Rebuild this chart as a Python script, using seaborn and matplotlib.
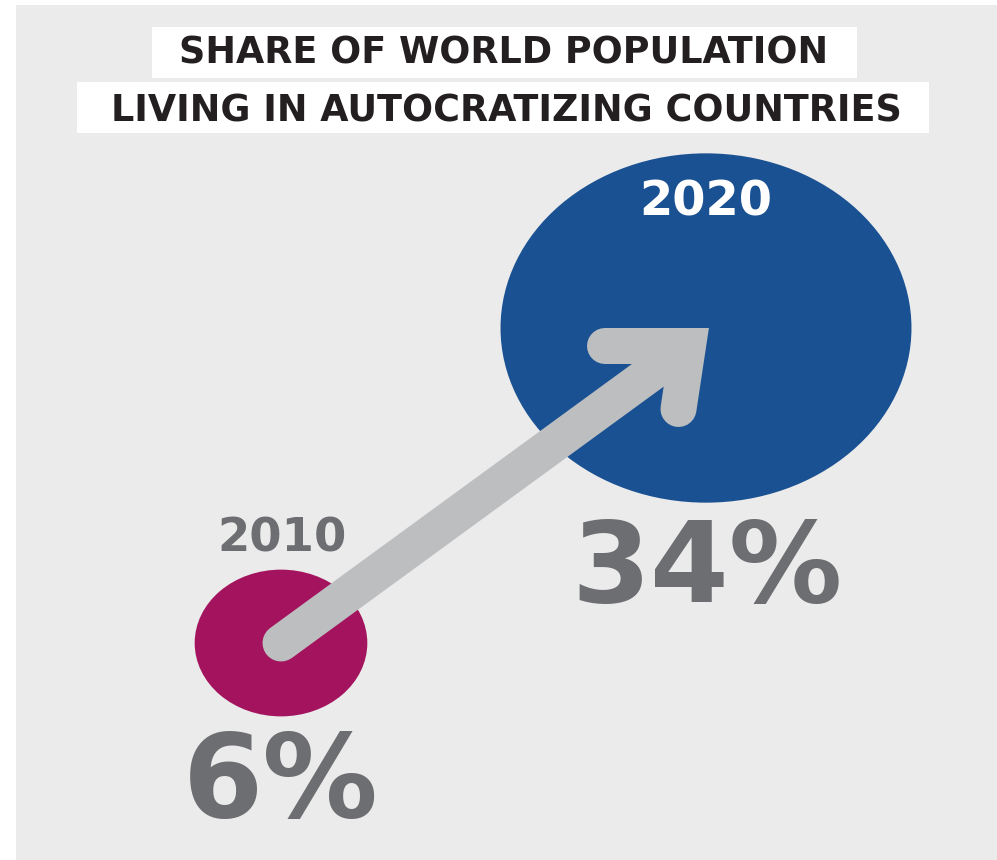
import numpy as np
import pandas as pd
import seaborn as sns
import matplotlib.pyplot as plt
from matplotlib.path import Path
from matplotlib.patches import Rectangle
from matplotlib.lines import Line2D
from matplotlib.transforms import Affine2D

# Data
years = [2010, 2020]
shares = [6, 34]
share_labels = ["6%", "34%"]
year_labels = ["2010", "2020"]
title_lines = ["SHARE OF WORLD POPULATION", "LIVING IN AUTOCRATIZING COUNTRIES"]

# Colours
MAGENTA = "#a3135e"
BLUE = "#1a5192"
ARROW = "#bcbec0"
GREY_TEXT = "#6d6e71"
DARK = "#231f20"
PANEL = "#ebebeb"

W, H = 997, 860
PX = 0.72  # points per pixel at dpi 100

sns.set_theme(style="white")
plt.rcParams["font.family"] = ["DejaVu Sans"]

fig = plt.figure(figsize=(W / 100, H / 100), dpi=100)
fig.patch.set_facecolor("white")

# pixel layer: grey panel + white title boxes
bg = fig.add_axes([0, 0, 1, 1])
bg.set_xlim(0, W)
bg.set_ylim(H, 0)
bg.axis("off")
bg.add_patch(Rectangle((16, 5), W - 16, H - 5, color=PANEL, lw=0))
bg.add_patch(Rectangle((152, 27), 705, 51, color="white", lw=0))
bg.add_patch(Rectangle((77, 82), 852, 51, color="white", lw=0))
bg.text(504, 63, title_lines[0], ha="center", va="baseline",
        fontsize=26.3, fontweight="bold", color=DARK)
bg.text(506, 122, title_lines[1], ha="center", va="baseline",
        fontsize=26.3, fontweight="bold", color=DARK)

# data layer: x = year, y = share, placed so the bubbles land where they should
ax = fig.add_axes([0, 0, 1, 1])
ax.patch.set_alpha(0)

df = pd.DataFrame({"year": years, "share": shares})
ellipse = Path.unit_circle().transformed(Affine2D().scale(1, 0.85))
AREA_PER_PCT = 2575  # marker area (pt^2) per percentage point
sns.scatterplot(data=df, x="year", y="share", hue="year",
                palette={years[0]: MAGENTA, years[1]: BLUE},
                size="share", sizes={s: s * AREA_PER_PCT for s in shares},
                marker=ellipse, linewidth=0, legend=False, ax=ax)

# map data -> pixel positions of the two bubble centres
p0_px, p1_px = (281, 643), (706, 328)
x_scale = (p1_px[0] - p0_px[0]) / (years[1] - years[0])
y_scale = (p0_px[1] - p1_px[1]) / (shares[1] - shares[0])
ax.set_xlim(years[0] - p0_px[0] / x_scale, years[0] + (W - p0_px[0]) / x_scale)
ax.set_ylim(shares[0] - (H - p0_px[1]) / y_scale, shares[0] + p0_px[1] / y_scale)
ax.axis("off")

# arrow from 2010 to 2020
pts = bg.transData.inverted().transform(ax.transData.transform(df[["year", "share"]].to_numpy(float)))
p0, p1 = pts[0], pts[1]
half = 18
corner = p1 + np.array([-half, half])
head = np.array([p1 + [-101, half], corner, p1 + [-27.5, 81]])
d = (corner - p0) / np.linalg.norm(corner - p0)
shaft_end = corner - 8 * d
ax.add_line(Line2D([p0[0], shaft_end[0]], [p0[1], shaft_end[1]], color=ARROW, lw=37 * PX,
                   solid_capstyle="round", transform=bg.transData, clip_on=False))
ax.add_line(Line2D(head[:, 0], head[:, 1], color=ARROW, lw=2 * half * PX, solid_capstyle="round",
                   solid_joinstyle="miter", transform=bg.transData, clip_on=False))

# labels
year_offsets = [(1, 91), (0, 113)]
year_colors = [GREY_TEXT, "white"]
year_sizes = [33.5, 34.5]
pct_offsets = [(0, -174), (1.5, -274)]
pct_sizes = [83, 81.5]
for i in range(len(years)):
    ax.annotate(year_labels[i], (years[i], shares[i]),
                xytext=(year_offsets[i][0] * PX, year_offsets[i][1] * PX),
                textcoords="offset points", ha="center", va="baseline",
                fontsize=year_sizes[i], fontweight="bold", color=year_colors[i])
    ax.annotate(share_labels[i], (years[i], shares[i]),
                xytext=(pct_offsets[i][0] * PX, pct_offsets[i][1] * PX),
                textcoords="offset points", ha="center", va="baseline",
                fontsize=pct_sizes[i], fontweight="bold", color=GREY_TEXT)

fig.savefig("out.png", dpi=100)
